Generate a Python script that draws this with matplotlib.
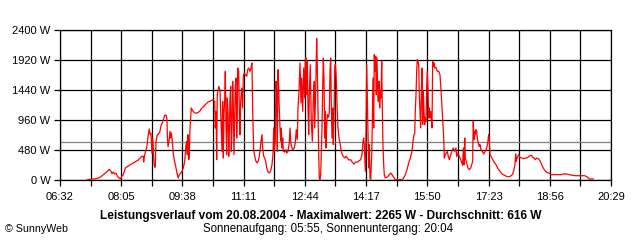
import matplotlib
matplotlib.use("Agg")
import matplotlib.pyplot as plt
from matplotlib.ticker import FixedLocator, FuncFormatter

plt.rcParams['font.family'] = ['Liberation Sans', 'DejaVu Sans']

# time in minutes since midnight, power in W
minutes = [
    433.5, 441.1, 447.7, 452.8, 457.8, 462.9, 466.9, 469.5, 471.0, 473.0, 475.1, 477.1, 479.6, 482.1, 484.2,
    485.7, 488.2, 491.2, 495.7, 500.9, 505.9, 510.9, 516.1, 518.5, 519.1, 520.1, 522.2, 523.7, 526.1, 527.6,
    528.7, 530.2, 531.7, 532.8, 534.8, 535.9, 536.8, 537.8, 539.8, 540.9, 543.4, 545.9, 548.5, 551.0, 553.5,
    554.5, 555.0, 556.1, 557.6, 559.1, 560.2, 561.1, 562.1, 563.2, 564.1, 566.2, 568.2, 570.2, 571.7, 573.2,
    575.3, 577.3, 579.3, 581.4, 583.4, 584.5, 585.4, 586.4, 587.5, 588.4, 589.5, 590.5, 591.4, 593.6, 596.6,
    600.6, 604.2, 606.6, 611.8, 616.8, 621.8, 624.4, 627.0, 627.9, 629.0, 630.0, 630.9, 633.1, 635.0, 637.0,
    638.1, 639.1, 640.1, 641.1, 642.2, 643.1, 644.2, 645.2, 646.1, 647.2, 648.3, 649.2, 650.2, 651.3, 652.2,
    653.3, 654.3, 655.3, 656.3, 657.4, 658.3, 659.3, 660.4, 661.3, 661.9, 663.5, 664.4, 665.4, 666.5, 668.0,
    669.5, 670.4, 672.0, 673.5, 675.6, 677.1, 678.6, 680.6, 682.1, 683.6, 684.7, 686.2, 687.8, 689.7, 691.7,
    693.8, 695.8, 697.3, 698.8, 699.9, 701.4, 702.9, 704.5, 706.0, 708.0, 709.9, 712.1, 714.0, 715.5, 716.6,
    717.5, 719.0, 720.1, 721.2, 722.1, 723.1, 724.2, 725.1, 726.2, 727.2, 728.2, 729.2, 730.3, 731.2, 733.3,
    735.3, 736.4, 738.3, 740.3, 741.4, 742.9, 745.5, 747.9, 749.4, 750.9, 752.5, 753.5, 755.0, 756.6, 758.1,
    759.2, 760.7, 762.2, 763.7, 764.6, 765.7, 766.7, 767.7, 768.7, 769.8, 770.7, 772.2, 773.7, 775.3, 776.8,
    778.3, 778.9, 780.4, 781.9, 782.8, 783.9, 785.0, 785.9, 786.9, 788.0, 788.9, 790.0, 791.0, 792.0, 793.0,
    794.1, 795.0, 796.1, 797.1, 798.0, 799.6, 801.1, 802.1, 803.2, 804.1, 805.2, 806.2, 807.2, 808.2, 809.3,
    810.2, 811.2, 812.3, 813.2, 814.3, 815.8, 817.3, 819.3, 820.8, 822.3, 824.5, 826.4, 828.4, 831.0, 833.6,
    836.0, 838.6, 841.2, 843.6, 846.2, 848.8, 850.7, 852.3, 853.3, 854.2, 855.8, 856.8, 857.9, 858.8, 859.9,
    860.9, 861.8, 862.9, 864.0, 865.5, 866.4, 867.4, 868.5, 869.4, 870.5, 871.6, 872.5, 873.5, 874.6, 875.5,
    876.6, 877.6, 878.5, 879.6, 880.7, 881.6, 882.6, 883.7, 884.6, 886.1, 888.3, 890.2, 892.2, 894.3, 896.3,
    898.9, 901.3, 911.5, 914.1, 916.5, 919.1, 921.7, 924.1, 926.7, 928.2, 929.7, 930.8, 931.7, 932.8, 933.8,
    934.7, 935.8, 936.9, 937.8, 938.8, 939.9, 940.8, 941.9, 942.9, 943.9, 944.9, 946.0, 946.9, 948.0, 949.0,
    949.9, 951.0, 952.1, 953.0, 954.0, 955.1, 956.0, 957.1, 958.1, 959.1, 960.1, 961.2, 963.1, 965.1, 967.2,
    969.2, 971.2, 972.3, 973.3, 974.9, 975.8, 977.3, 978.8, 980.3, 981.8, 983.4, 985.5, 987.4, 989.4, 991.6,
    993.5, 994.6, 995.5, 997.6, 999.6, 1001.6, 1003.7, 1004.6, 1005.7, 1006.8, 1007.7, 1009.8, 1011.8, 1013.7, 1015.9,
    1017.8, 1018.9, 1019.3, 1019.8, 1020.9, 1021.9, 1022.9, 1023.9, 1025.0, 1025.9, 1027.4, 1028.9, 1030.0, 1031.5, 1033.5,
    1035.6, 1037.6, 1040.2, 1041.7, 1043.2, 1044.1, 1045.2, 1046.7, 1048.2, 1050.2, 1052.3, 1054.3, 1056.3, 1058.4, 1060.4,
    1063.0, 1065.4, 1068.4, 1071.5, 1074.5, 1077.5, 1079.7, 1081.6, 1083.1, 1084.2, 1085.1, 1086.2, 1088.8, 1090.7, 1093.3,
    1095.8, 1098.3, 1100.9, 1103.4, 1105.9, 1108.5, 1110.0, 1112.0, 1114.0, 1116.1, 1118.5, 1121.1, 1123.7, 1126.1, 1128.7,
    1131.3, 1134.4, 1138.3, 1148.5, 1153.5, 1156.5, 1161.7, 1165.6, 1173.8, 1189.0, 1193.0, 1196.0, 1202.1,
]
watts = [
    5, 16, 20, 43, 85, 128, 171, 139, 101, 128, 96, 107, 53, 27, 21,
    59, 85, 192, 224, 256, 288, 320, 379, 379, 288, 379, 469, 512, 725, 816,
    736, 747, 427, 672, 272, 203, 219, 619, 725, 725, 763, 885, 939, 1035, 1035,
    965, 725, 533, 619, 779, 672, 752, 672, 539, 405, 299, 192, 85, 32, 85,
    107, 139, 192, 299, 565, 619, 405, 725, 325, 405, 832, 992, 1152, 1109, 1072,
    1072, 1099, 1141, 1195, 1248, 1269, 1285, 1259, 832, 1099, 325, 1365, 1499, 1445, 832,
    459, 1259, 352, 1045, 1285, 1739, 832, 405, 1312, 1099, 379, 725, 1312, 1499, 459,
    832, 1579, 1152, 405, 1045, 1499, 1632, 672, 1045, 1792, 1739, 1099, 725, 1259, 1472,
    1152, 1659, 1712, 1685, 1659, 1765, 1792, 1739, 1792, 1872, 1099, 485, 379, 299, 272,
    325, 459, 619, 725, 512, 379, 352, 299, 192, 128, 112, 149, 245, 405, 832,
    459, 619, 1579, 1365, 459, 1765, 1472, 1152, 832, 619, 832, 512, 672, 459, 448,
    485, 432, 459, 592, 832, 565, 485, 512, 592, 805, 645, 1152, 1419, 1872, 1232,
    1632, 1099, 1792, 1312, 1925, 1952, 1365, 1899, 1152, 725, 1365, 1845, 939, 619, 1312,
    1579, 832, 1419, 2265, 1845, 1099, 405, 32, 5, 85, 405, 832, 1472, 1952, 1632,
    672, 1099, 512, 885, 1045, 1003, 1072, 1739, 1952, 1205, 672, 1152, 565, 992, 1792,
    1845, 1739, 1365, 1099, 832, 672, 592, 459, 405, 379, 352, 379, 352, 320, 325,
    283, 256, 288, 283, 309, 325, 405, 619, 672, 565, 139, 725, 1845, 1365, 779,
    192, 565, 32, 5, 405, 885, 1632, 832, 2005, 1739, 1979, 1365, 1952, 1472, 1259,
    1579, 1152, 1419, 1312, 1899, 1152, 565, 245, 85, 32, 43, 59, 85, 112, 85,
    43, 5, 5, 32, 85, 165, 272, 352, 459, 619, 725, 736, 1099, 1365, 1739,
    1925, 1899, 1845, 1365, 1099, 832, 1365, 1792, 885, 1419, 1099, 885, 992, 939, 1472,
    1739, 1472, 992, 1152, 992, 1099, 992, 832, 1899, 1819, 1872, 1792, 1803, 1739, 1739,
    1685, 1365, 1152, 939, 672, 352, 405, 432, 459, 379, 325, 405, 469, 512, 459,
    512, 379, 432, 405, 352, 299, 235, 512, 245, 672, 352, 272, 192, 165, 192,
    256, 299, 672, 939, 645, 779, 725, 805, 779, 672, 592, 539, 565, 485, 459,
    416, 448, 512, 592, 725, 645, 405, 379, 352, 309, 272, 245, 203, 165, 139,
    101, 85, 69, 53, 53, 69, 96, 165, 245, 416, 299, 352, 405, 363, 352,
    341, 352, 352, 368, 389, 395, 363, 352, 325, 352, 341, 309, 245, 192, 149,
    123, 112, 85, 85, 85, 96, 96, 85, 69, 69, 48, 16, 16,
]

average_w = 616
maximum_w = 2265
y_ticks = [0, 480, 960, 1440, 1920, 2400]
x_start, x_step, n_steps = 392, 93, 9   # 06:32 .. 20:29
title = "Leistungsverlauf vom 20.08.2004 - Maximalwert: 2265 W - Durchschnitt: 616 W"
subtitle = "Sonnenaufgang: 05:55, Sonnenuntergang: 20:04"
credit = "\u00a9 SunnyWeb"

fig = plt.figure(figsize=(6.4, 2.4), dpi=100)
fig.patch.set_facecolor("white")
ax = fig.add_axes([60/640, 1-180/240, 551/640, 150/240])

x_end = x_start + x_step * n_steps
ax.set_xlim(x_start, x_end)
ax.set_ylim(0, 2400)

major = [x_start + i * x_step for i in range(n_steps + 1)]
minor = [x_start + (i + 0.5) * x_step for i in range(n_steps)]
ax.xaxis.set_major_locator(FixedLocator(major))
ax.xaxis.set_minor_locator(FixedLocator(minor))
ax.xaxis.set_major_formatter(FuncFormatter(lambda v, p: f"{int(round(v))//60:02d}:{int(round(v))%60:02d}"))
ax.yaxis.set_major_locator(FixedLocator(y_ticks))
ax.yaxis.set_major_formatter(FuncFormatter(lambda v, p: f"{int(v)} W"))

for v in major + minor:
    ax.axvline(v, color="black", lw=0.9, zorder=1)
for v in y_ticks:
    ax.axhline(v, color="black", lw=0.9, zorder=1)

ax.axhline(average_w, color="#808080", lw=0.9, zorder=2)
ax.plot(minutes, watts, color="red", lw=0.9, zorder=3)

for s in ax.spines.values():
    s.set_color("black")
    s.set_linewidth(0.9)
ax.tick_params(axis="both", which="both", length=4.5, width=0.9, color="black",
               labelsize=8, labelcolor="black")
ax.tick_params(axis="x", which="both", pad=4)
ax.tick_params(axis="y", pad=2.5)

fig.text(321/640, 1-216/240, title, ha="center", va="center", fontsize=8.6, fontweight="bold")
fig.text(328/640, 1-229/240, subtitle, ha="center", va="center", fontsize=8.3)
fig.text(5/640, 1-229/240, credit, ha="left", va="center", fontsize=7.7)

fig.savefig("out.png", dpi=100, facecolor="white")
